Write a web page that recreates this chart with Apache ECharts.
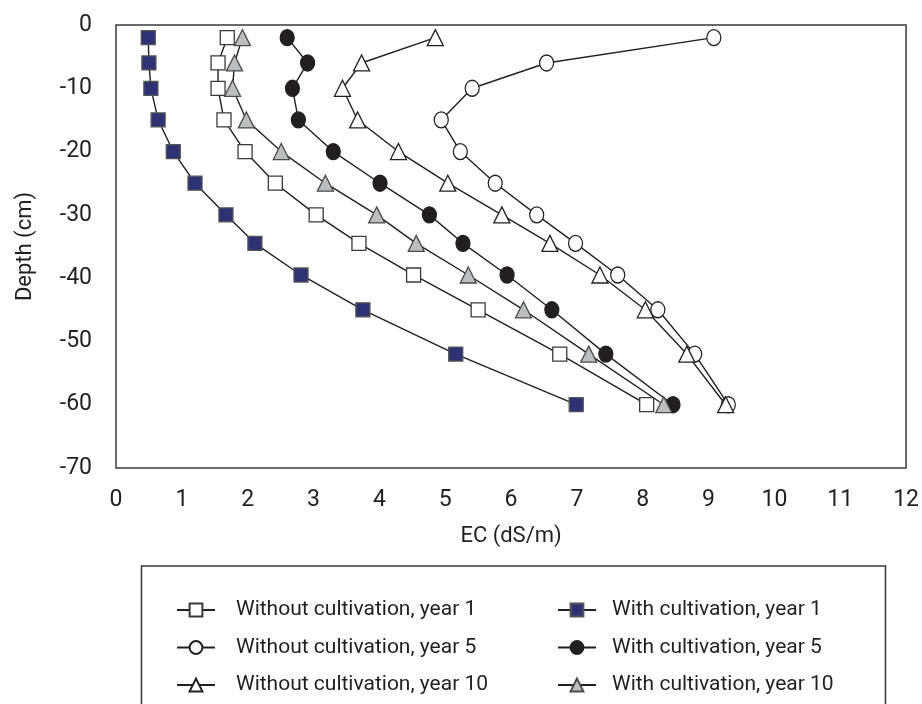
<!DOCTYPE html>
<html>
<head>
<meta charset="utf-8">
<script src="https://cdn.jsdelivr.net/npm/echarts@6/dist/echarts.min.js"></script>
<style>
  html, body { margin: 0; padding: 0; background: #fff; }
  #chart { width: 922px; height: 704px; }
</style>
</head>
<body>
<div id="chart"></div>
<script>
const FONT = "Roboto, 'Liberation Sans', sans-serif";
const INK = "#231f20";

// depth of each sample (cm), shared by all series
const depths = [-2, -6, -10, -15, -20, -25, -30, -34.5, -39.5, -45, -52, -60];

// EC (dS/m) per depth
const withoutYear1 = [1.69, 1.55, 1.55, 1.64, 1.96, 2.42, 3.04, 3.69, 4.52, 5.5, 6.74, 8.06];
const withoutYear5 = [9.08, 6.54, 5.41, 4.94, 5.23, 5.76, 6.39, 6.98, 7.62, 8.23, 8.79, 9.3];
const withoutYear10 = [4.85, 3.73, 3.44, 3.67, 4.29, 5.04, 5.86, 6.59, 7.35, 8.04, 8.67, 9.26];
const withYear1 = [0.49, 0.5, 0.53, 0.64, 0.87, 1.2, 1.67, 2.11, 2.81, 3.75, 5.16, 6.99];
const withYear5 = [2.6, 2.91, 2.68, 2.77, 3.3, 4.01, 4.76, 5.27, 5.94, 6.62, 7.44, 8.46];
const withYear10 = [1.92, 1.8, 1.77, 1.98, 2.51, 3.18, 3.96, 4.56, 5.35, 6.19, 7.18, 8.32];

const names = [
  "Without cultivation, year 1",
  "Without cultivation, year 5",
  "Without cultivation, year 10",
  "With cultivation, year 1",
  "With cultivation, year 5",
  "With cultivation, year 10",
];

function pairs(values) {
  return values.map((v, i) => [v, depths[i]]);
}

function makeSeries(name, values, symbol, size, fill, border) {
  return {
    name: name,
    type: "line",
    data: pairs(values),
    symbol: symbol,
    symbolSize: size,
    showAllSymbol: true,
    lineStyle: { color: INK, width: 1.4 },
    itemStyle: { color: fill, borderColor: border, borderWidth: 1.3, opacity: 1 },
    emphasis: { disabled: true },
  };
}

function legendColumn(left, gap, data) {
  return {
    orient: "vertical",
    left: left,
    top: 592,
    itemWidth: 38,
    itemHeight: 16,
    itemGap: 11.5,
    textStyle: { color: INK, fontFamily: FONT, fontSize: 21, lineHeight: 26, padding: [0, 0, 0, gap] },
    data: data,
  };
}

const chart = echarts.init(document.getElementById("chart"));

chart.setOption({
  animation: false,
  backgroundColor: "#fff",
  textStyle: { fontFamily: FONT, color: INK },
  grid: {
    left: 116,
    right: 13,
    top: 25,
    bottom: 236,
    show: true,
    borderColor: "#3a3a3a",
    borderWidth: 1.5,
  },
  xAxis: {
    type: "value",
    min: 0,
    max: 12,
    interval: 1,
    name: "EC (dS/m)",
    nameLocation: "middle",
    nameGap: 57,
    nameTextStyle: { fontFamily: FONT, fontSize: 22, color: INK },
    axisLine: { show: false },
    axisTick: { show: false },
    splitLine: { show: false },
    axisLabel: { fontFamily: FONT, fontSize: 23, color: INK, margin: 21 },
  },
  yAxis: {
    type: "value",
    min: -70,
    max: 0,
    interval: 10,
    name: "Depth (cm)",
    nameLocation: "middle",
    nameGap: 80,
    nameRotate: 90,
    nameTextStyle: { fontFamily: FONT, fontSize: 22, color: INK },
    axisLine: { show: false },
    axisTick: { show: false },
    splitLine: { show: false },
    axisLabel: { fontFamily: FONT, fontSize: 23, color: INK, margin: 24, padding: [0, 0, 12, 0] },
  },
  legend: [
    legendColumn(171, 16, names.slice(0, 3)),
    legendColumn(552, 11, names.slice(3)),
  ],
  graphic: [
    {
      type: "rect",
      shape: { x: 141.5, y: 566, width: 744, height: 160 },
      style: { fill: "none", stroke: "#3a3a3a", lineWidth: 1.5 },
      silent: true,
    },
  ],
  series: [
    makeSeries(names[0], withoutYear1, "rect", 14, "#ffffff", "#3a3a3a"),
    makeSeries(names[1], withoutYear5, "circle", [14, 16], "#ffffff", INK),
    makeSeries(names[2], withoutYear10, "triangle", 16, "#ffffff", INK),
    makeSeries(names[3], withYear1, "rect", 14, "#2e3274", "#555555"),
    makeSeries(names[4], withYear5, "circle", [14, 16], INK, INK),
    makeSeries(names[5], withYear10, "triangle", 16, "#bcbec0", "#4a4a4a"),
  ],
});
</script>
</body>
</html>
